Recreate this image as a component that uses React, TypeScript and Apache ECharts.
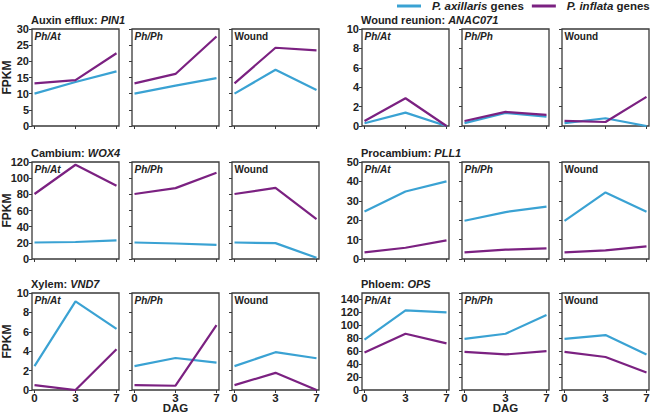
import React, { useEffect, useRef } from "react";
import * as echarts from "echarts";

// ---- data ----
const dag = ["0", "3", "7"];
const conditions = ["Ph/At", "Ph/Ph", "Wound"];
const seriesNames = ["P. axillaris genes", "P. inflata genes"];

const pin1Axillaris = [[10, 13.6, 16.9], [10, 12.5, 14.8], [10, 17.4, 11.1]];
const pin1Inflata = [[13.2, 14.2, 22.5], [13.2, 16.1, 27.7], [13.2, 24.2, 23.4]];
const anac071Axillaris = [[0.28, 1.38, 0], [0.3, 1.35, 0.97], [0.3, 0.8, 0]];
const anac071Inflata = [[0.52, 2.86, 0], [0.52, 1.45, 1.14], [0.52, 0.41, 3.0]];
const wox4Axillaris = [[20.4, 21, 23], [20.4, 19.2, 17.5], [20.4, 19.6, 1.5]];
const wox4Inflata = [[80.4, 116.6, 90.5], [80.4, 87.7, 106.8], [80.4, 88, 49.3]];
const pll1Axillaris = [[24.5, 34.8, 40], [19.7, 24.2, 27], [19.7, 34.3, 24.4]];
const pll1Inflata = [[3.4, 5.8, 9.6], [3.4, 4.8, 5.5], [3.4, 4.4, 6.5]];
const vnd7Axillaris = [[2.46, 9.14, 6.3], [2.46, 3.3, 2.83], [2.46, 3.9, 3.27]];
const vnd7Inflata = [[0.5, 0, 4.2], [0.5, 0.44, 6.7], [0.5, 1.77, 0]];
const opsAxillaris = [[78, 123, 120], [79, 87, 116], [79, 85, 55]];
const opsInflata = [[58, 87, 72], [59, 55, 60], [59, 51, 27]];

// rows x groups (left, right)
const genes = [
  [
    { label: "Auxin efflux: ", gene: "PIN1", ax: pin1Axillaris, inf: pin1Inflata, max: 30, interval: 5 },
    { label: "Wound reunion: ", gene: "ANAC071", ax: anac071Axillaris, inf: anac071Inflata, max: 10, interval: 2 },
  ],
  [
    { label: "Cambium: ", gene: "WOX4", ax: wox4Axillaris, inf: wox4Inflata, max: 120, interval: 20 },
    { label: "Procambium: ", gene: "PLL1", ax: pll1Axillaris, inf: pll1Inflata, max: 50, interval: 10 },
  ],
  [
    { label: "Xylem: ", gene: "VND7", ax: vnd7Axillaris, inf: vnd7Inflata, max: 10, interval: 2 },
    { label: "Phloem: ", gene: "OPS", ax: opsAxillaris, inf: opsInflata, max: 150, interval: 20 },
  ],
];

// ---- layout / style ----
const FONT = '"Liberation Sans", Arial, Helvetica, sans-serif';
const BLUE = "#3aa2d3";
const PURPLE = "#7b2181";
const DARK = "#222";
const BOX = "#3a3a3a";
const boxLefts = [[32, 132, 232], [362, 462, 562]];
const boxW = 87;
const rowTops = [29, 162, 293];
const boxH = 97;
const inset = 2.5;

export default function App() {
  const ref = useRef<HTMLDivElement>(null);
  useEffect(() => {
    if (!ref.current) return;
    const chart = echarts.init(ref.current, null, { renderer: "svg" });
    const grid: any[] = [];
    const xAxis: any[] = [];
    const yAxis: any[] = [];
    const series: any[] = [];
    const graphic: any[] = [];
    let idx = 0;
    for (let r = 0; r < 3; r++) {
      for (let g = 0; g < 2; g++) {
        const gi = genes[r][g];
        const top = rowTops[r];
        graphic.push({
          type: "text",
          x: boxLefts[g][0] - 1,
          y: top - 9,
          silent: true,
          style: {
            text: `{n|${gi.label}}{g|${gi.gene}}`,
            verticalAlign: "middle",
            textVerticalAlign: "middle",
            rich: {
              n: { fontFamily: FONT, fontSize: 11, fontWeight: "bold", fill: DARK, color: DARK },
              g: { fontFamily: FONT, fontSize: 11, fontWeight: "bold", fontStyle: "italic", fill: DARK, color: DARK },
            },
          },
        });
        for (let p = 0; p < 3; p++) {
          const left = boxLefts[g][p];
          grid.push({
            left: left + inset,
            top,
            width: boxW - 2 * inset,
            height: boxH,
            containLabel: false,
            outerBoundsMode: "none",
          });
          graphic.push({
            type: "rect",
            silent: true,
            z: 1,
            shape: { x: left, y: top, width: boxW, height: boxH },
            style: { fill: "none", stroke: BOX, lineWidth: 1.3 },
          });
          graphic.push({
            type: "text",
            x: left + 2.5,
            y: top + 2,
            silent: true,
            style: {
              text: conditions[p],
              fontFamily: FONT,
              fontSize: 10,
              fontWeight: "bold",
              fontStyle: p < 2 ? "italic" : "normal",
              fill: DARK,
              verticalAlign: "top",
              textVerticalAlign: "top",
            },
          });
          xAxis.push({
            type: "category",
            gridIndex: idx,
            data: dag,
            boundaryGap: false,
            axisLine: { show: false },
            axisTick: { show: true, length: 3, lineStyle: { color: BOX, width: 1 } },
            axisLabel: {
              show: r === 2,
              interval: 0,
              margin: 2,
              lineHeight: 11,
              fontFamily: FONT,
              fontSize: 11.5,
              fontWeight: "bold",
              color: DARK,
            },
            splitLine: { show: false },
            name: r === 2 && p === 1 ? "DAG" : "",
            nameLocation: "middle",
            nameGap: 13,
            nameMoveOverlap: false,
            nameTextStyle: { fontFamily: FONT, fontSize: 11.5, lineHeight: 10, fontWeight: "bold", color: DARK },
          });
          yAxis.push({
            type: "value",
            gridIndex: idx,
            min: 0,
            max: gi.max,
            interval: gi.interval,
            offset: inset,
            axisLine: { show: false },
            axisTick: { show: true, length: 3, lineStyle: { color: BOX, width: 1 } },
            axisLabel: {
              show: p === 0,
              showMaxLabel: gi.max % gi.interval === 0,
              margin: 3,
              fontFamily: FONT,
              fontSize: 11,
              fontWeight: "bold",
              color: DARK,
            },
            splitLine: { show: false },
            name: g === 0 && p === 0 ? "FPKM" : "",
            nameLocation: "middle",
            nameRotate: 90,
            nameGap: 19,
            nameMoveOverlap: false,
            nameTextStyle: { fontFamily: FONT, fontSize: 12, fontWeight: "bold", color: DARK },
          });
          const sets = [gi.ax[p], gi.inf[p]];
          const colors = [BLUE, PURPLE];
          for (let s = 0; s < 2; s++) {
            series.push({
              type: "line",
              name: seriesNames[s],
              xAxisIndex: idx,
              yAxisIndex: idx,
              data: sets[s],
              symbol: "none",
              z: 3,
              itemStyle: { color: colors[s] },
              lineStyle: { color: colors[s], width: 2.2 },
            });
          }
          idx++;
        }
      }
    }
    chart.setOption({
      animation: false,
      color: [BLUE, PURPLE],
      grid,
      xAxis,
      yAxis,
      series,
      graphic,
      legend: {
        data: seriesNames,
        left: 397,
        top: 0,
        padding: 0,
        itemGap: 8,
        itemWidth: 24,
        itemHeight: 3,
        icon: "rect",
        formatter: (name: string) =>
          name === seriesNames[0] ? "{i|P. axillaris} {n|genes}" : "{i|P. inflata} {n|genes}",
        textStyle: {
          fontFamily: FONT,
          fontSize: 11.5,
          fontWeight: "bold",
          color: DARK,
          rich: {
            i: { fontFamily: FONT, fontSize: 11.5, fontWeight: "bold", fontStyle: "italic", color: DARK, padding: [0, 0, 0, 6] },
            n: { fontFamily: FONT, fontSize: 11.5, fontWeight: "bold", color: DARK },
          },
        },
      },
    });
    return () => chart.dispose();
  }, []);
  return (
    <div
      ref={ref}
      style={{ position: "absolute", left: 0, top: 0, width: 654, height: 413, background: "#fff" }}
    />
  );
}
